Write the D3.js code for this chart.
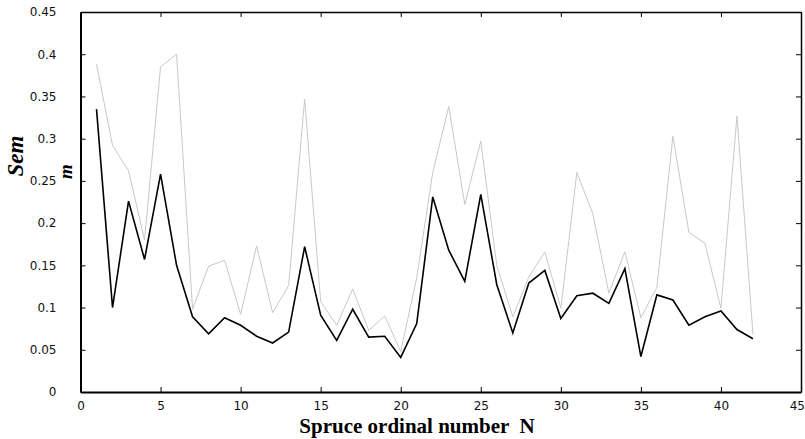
<!DOCTYPE html>
<html>
<head>
<meta charset="utf-8">
<script src="https://cdn.jsdelivr.net/npm/d3@7"></script>
<style>
  body { margin: 0; background: #fff; }
  svg { display: block; }
</style>
</head>
<body>
<div id="chart"></div>
<script>
// spruce ordinal numbers
const spruceN = d3.range(1, 43);

// lower (black) series
const semLower = [0.335, 0.1, 0.226, 0.157, 0.258, 0.15, 0.089, 0.069, 0.088, 0.079,
  0.066, 0.058, 0.071, 0.172, 0.091, 0.061, 0.098, 0.065, 0.066, 0.041,
  0.081, 0.231, 0.168, 0.131, 0.234, 0.127, 0.07, 0.129, 0.144, 0.087,
  0.114, 0.117, 0.105, 0.146, 0.042, 0.115, 0.109, 0.079, 0.089, 0.096,
  0.074, 0.063];

// upper (grey) series
const semUpper = [0.388, 0.292, 0.262, 0.18, 0.385, 0.4, 0.098, 0.149, 0.156, 0.092,
  0.173, 0.094, 0.126, 0.347, 0.107, 0.079, 0.122, 0.073, 0.09, 0.048,
  0.135, 0.26, 0.338, 0.222, 0.297, 0.15, 0.089, 0.136, 0.166, 0.099,
  0.26, 0.211, 0.117, 0.166, 0.088, 0.124, 0.303, 0.189, 0.176, 0.099,
  0.327, 0.068];

const xTicks = [0, 5, 10, 15, 20, 25, 30, 35, 40, 45];
const yTicks = [0, 0.05, 0.1, 0.15, 0.2, 0.25, 0.3, 0.35, 0.4, 0.45];

const width = 805, height = 439;
const margin = { top: 12, right: 4, bottom: 47, left: 80.5 };
const chartWidth = width - margin.left - margin.right;
const chartHeight = height - margin.top - margin.bottom;

const svg = d3.select("#chart").append("svg")
  .attr("width", width)
  .attr("height", height);

const g = svg.append("g")
  .attr("transform", `translate(${margin.left},${margin.top})`);

const x = d3.scaleLinear().domain([0, 45]).range([0, chartWidth]);
const y = d3.scaleLinear().domain([0, 0.45]).range([chartHeight, 0]);

const tickFont = "'DejaVu Sans', 'Open Sans', sans-serif";

// axes with inward ticks
const axisB = g.append("g")
  .attr("transform", `translate(0,${chartHeight})`)
  .call(d3.axisBottom(x).tickValues(xTicks).tickSizeInner(-5).tickSizeOuter(0).tickPadding(9)
    .tickFormat(d3.format("d")));
const axisT = g.append("g")
  .call(d3.axisTop(x).tickValues(xTicks).tickSizeInner(-5).tickSizeOuter(0).tickFormat(""));
const axisL = g.append("g")
  .call(d3.axisLeft(y).tickValues(yTicks).tickSizeInner(-5).tickSizeOuter(0).tickPadding(24)
    .tickFormat(d => d === 0 ? "0" : String(+d.toFixed(2))));
const axisR = g.append("g")
  .attr("transform", `translate(${chartWidth},0)`)
  .call(d3.axisRight(y).tickValues(yTicks).tickSizeInner(-5).tickSizeOuter(0).tickFormat(""));

[axisB, axisT, axisL, axisR].forEach(a => {
  a.selectAll(".tick line").attr("stroke", "#000").attr("stroke-width", 1);
  a.selectAll(".tick text")
    .attr("fill", "#111")
    .style("font-family", tickFont)
    .style("font-size", "12px");
});
axisB.select(".domain").attr("stroke", "#000").attr("stroke-width", 2);
axisL.select(".domain").attr("stroke", "#000").attr("stroke-width", 2);
axisT.select(".domain").attr("stroke", "#000").attr("stroke-width", 1.5);
axisR.select(".domain").attr("stroke", "#000").attr("stroke-width", 1.5);

// keep the last x label inside the picture
axisB.selectAll(".tick text")
  .filter(d => d === 45)
  .attr("text-anchor", "end")
  .attr("x", 3.5);

// grey series
g.append("path")
  .datum(spruceN.map((n, i) => [n, semUpper[i]]))
  .attr("fill", "none")
  .attr("stroke", "#c8c8c8")
  .attr("stroke-width", 1)
  .attr("d", d3.line().x(d => x(d[0])).y(d => y(d[1])));

// black series
g.append("path")
  .datum(spruceN.map((n, i) => [n, semLower[i]]))
  .attr("fill", "none")
  .attr("stroke", "#000")
  .attr("stroke-width", 1.6)
  .attr("d", d3.line().x(d => x(d[0])).y(d => y(d[1])));

// axis titles
svg.append("text")
  .attr("x", 417)
  .attr("y", 433)
  .attr("text-anchor", "middle")
  .style("font-family", "'Liberation Serif', 'Times New Roman', serif")
  .style("font-weight", "bold")
  .style("font-size", "21px")
  .style("white-space", "pre")
  .text("Spruce ordinal number  N");

svg.append("text")
  .attr("transform", "translate(23,156) rotate(-90)")
  .attr("text-anchor", "middle")
  .style("font-family", "'Liberation Serif', 'Times New Roman', serif")
  .style("font-weight", "bold")
  .style("font-style", "italic")
  .style("font-size", "23px")
  .text("Sem");

svg.append("text")
  .attr("transform", "translate(72,171.5) rotate(-90)")
  .attr("text-anchor", "middle")
  .style("font-family", "'Liberation Serif', 'Times New Roman', serif")
  .style("font-weight", "bold")
  .style("font-style", "italic")
  .style("font-size", "19px")
  .text("m");
</script>
</body>
</html>
